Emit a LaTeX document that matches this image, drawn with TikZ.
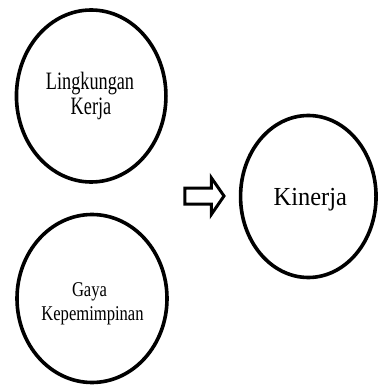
\documentclass[tikz,border=0pt]{standalone}
\usepackage{fontspec}
\usetikzlibrary{shapes.geometric}
% condensed serif faces for the three labels
\newfontfamily\lkfont[FakeStretch=0.73]{Liberation Serif}
\newfontfamily\gkfont[FakeStretch=0.79]{Liberation Serif}
\newfontfamily\knfont[FakeStretch=0.94]{Liberation Serif}
\begin{document}
\begin{tikzpicture}[x=1pt,y=-1pt,
  var/.style={draw, ellipse, line width=3.6pt, inner sep=0pt},
  lbl/.style={anchor=base, inner sep=0pt},
  blockarrow/.style={draw, line width=3pt, line join=miter, fill=white}]
\useasboundingbox (0,0) rectangle (377,387);

% variables
\node[var, minimum width=149.5pt, minimum height=172pt] (lk) at (91.2,96) {};
\node[var, minimum width=150pt, minimum height=168pt] (gk) at (92,298.5) {};
\node[var, minimum width=135.5pt, minimum height=162pt] (kn) at (308.3,196.5) {};

% labels
\node[lbl, font=\lkfont\fontsize{25}{27}\selectfont] (lk1) at (90,89.3) {Lingkungan};
\node[lbl, font=\lkfont\fontsize{25}{27}\selectfont] (lk2) at (91,115) {Kerja};
\node[lbl, font=\gkfont\fontsize{21}{24}\selectfont] (gk1) at (89.5,296.7) {Gaya};
\node[lbl, font=\gkfont\fontsize{21}{24}\selectfont] (gk2) at (92.5,320) {Kepemimpinan};
\node[lbl, font=\knfont\fontsize{26}{29}\selectfont] (kn1) at (310.3,205) {Kinerja};

% open block arrow pointing at Kinerja
\coordinate (a1) at (184.8,188);
\coordinate (a2) at (211.3,188);
\coordinate (a3) at (211.3,177.7);
\coordinate (a4) at (224,196);
\coordinate (a5) at (211.3,214.5);
\coordinate (a6) at (211.3,204);
\coordinate (a7) at (184.8,204);
\draw[blockarrow] (a1) -- (a2) -- (a3) -- (a4) -- (a5) -- (a6) -- (a7) -- cycle;
\end{tikzpicture}
\end{document}
